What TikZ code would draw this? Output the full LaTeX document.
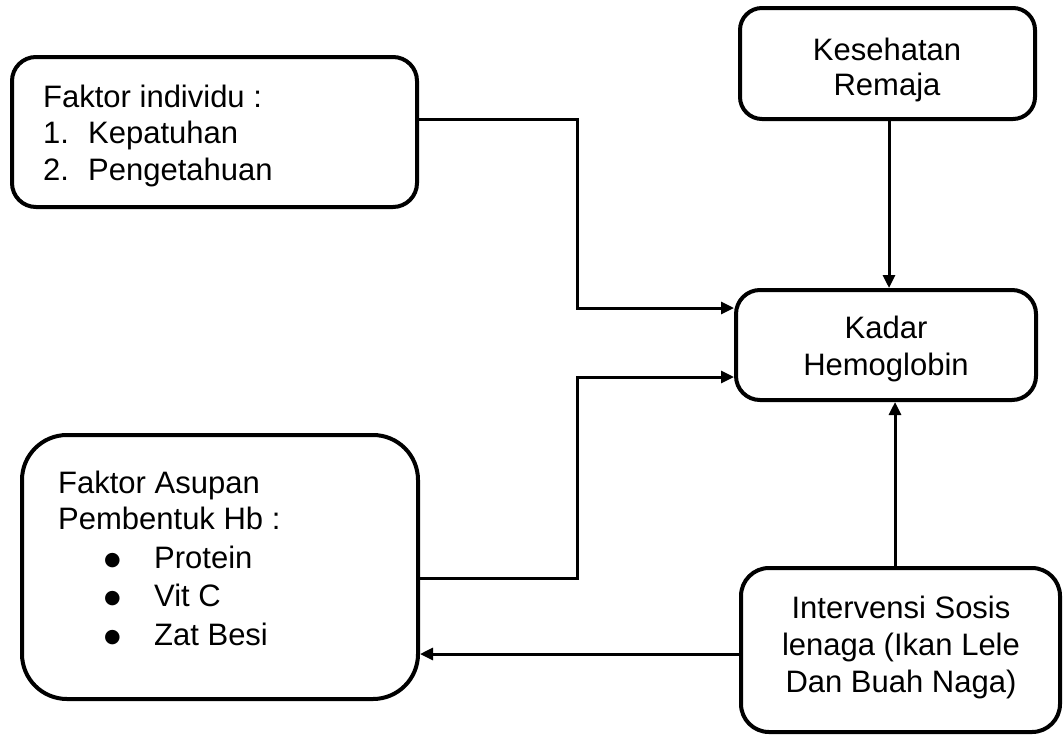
\documentclass[tikz,border=0pt]{standalone}
\usepackage{fontspec}
\setmainfont{Liberation Sans}
\newfontfamily\dejavu{DejaVu Sans}
\usetikzlibrary{arrows.meta}
\newcommand{\bul}{\makebox[50pt][l]{\raisebox{3pt}{\dejavu\fontsize{19}{19}\selectfont ●}}}
\begin{document}
\begin{tikzpicture}[x=1pt,y=-1pt,
  box/.style={draw, line width=4pt, rounded corners=#1, inner sep=0pt},
  box/.default=24pt,
  txt/.style={font=\fontsize{31}{37}\selectfont, inner sep=0pt},
  conn/.style={line width=3pt, -{Triangle[length=13pt,width=12pt]}}]
\useasboundingbox (0,0) rectangle (1064,736);
% boxes
\node[box=24pt, minimum width=405pt, minimum height=150pt] (b1) at (214.5,132) {};
\node[box=22pt, minimum width=295pt, minimum height=111pt] (b2) at (887.5,63.5) {};
\node[box=24pt, minimum width=300pt, minimum height=110pt] (b3) at (886,345) {};
\node[box=45pt, minimum width=396pt, minimum height=264pt] (b4) at (220,567) {};
\node[box=28pt, minimum width=319pt, minimum height=164pt] (b5) at (900.5,650) {};
% texts
\node[txt, anchor=base west] (t1a) at (43,107) {Faktor individu :};
\node[txt, anchor=base west] (t1b) at (43,143) {\makebox[45pt][l]{1.}Kepatuhan};
\node[txt, anchor=base west] (t1c) at (43,180) {\makebox[45pt][l]{2.}Pengetahuan};
\node[txt, anchor=base] (t2a) at (887,60) {Kesehatan};
\node[txt, anchor=base] (t2b) at (887,95) {Remaja};
\node[txt, anchor=base] (t3a) at (886,338) {Kadar};
\node[txt, anchor=base] (t3b) at (886,375) {Hemoglobin};
\node[txt, anchor=base west] (t4a) at (58,493) {Faktor Asupan};
\node[txt, anchor=base west] (t4b) at (58,529) {Pembentuk Hb :};
\node[txt, anchor=base west] (t4c) at (104,568) {\bul Protein};
\node[txt, anchor=base west] (t4d) at (104,606) {\bul Vit C};
\node[txt, anchor=base west] (t4e) at (104,645) {\bul Zat Besi};
\node[txt, anchor=base] (t5a) at (901,618) {Intervensi Sosis};
\node[txt, anchor=base] (t5b) at (901,655) {lenaga (Ikan Lele};
\node[txt, anchor=base] (t5c) at (901,692) {Dan Buah Naga)};
% helper coordinates
\coordinate (jx) at (577,0);
\coordinate (v1) at (889,0);
\coordinate (v2) at (895,0);
\coordinate (h1) at (0,654);
\coordinate (s1) at ([yshift=13pt]b1.east);
\coordinate (e1) at ([yshift=37pt]b3.west);
\coordinate (s2) at ([yshift=-11pt]b4.east);
\coordinate (e2) at ([yshift=-32pt]b3.west);
% connectors
\draw[conn] (s1) -| (jx |- e1) -- (e1);
\draw[conn] (s2) -| (jx |- e2) -- (e2);
\draw[conn] (b2.south -| v1) -- (b3.north -| v1);
\draw[conn] (b5.north -| v2) -- (b3.south -| v2);
\draw[conn] (b5.west |- h1) -- (b4.east |- h1);
\end{tikzpicture}
\end{document}
